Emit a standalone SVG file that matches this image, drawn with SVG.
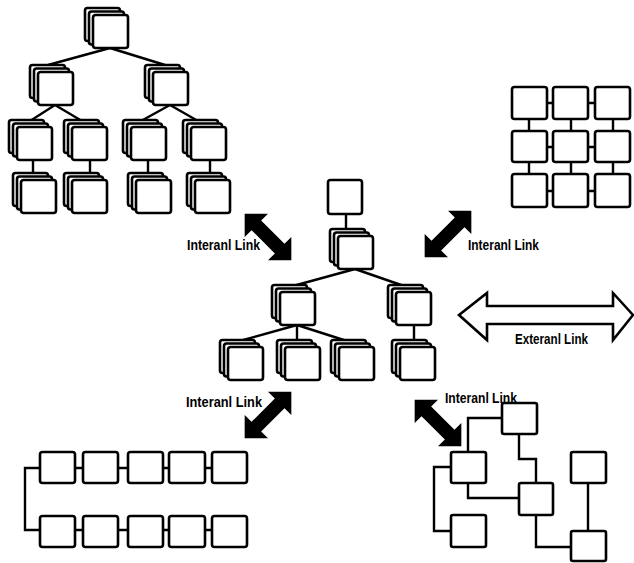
<svg xmlns="http://www.w3.org/2000/svg" xmlns:xlink="http://www.w3.org/1999/xlink" width="634" height="563" viewBox="0 0 634 563">
<style>
.b{fill:#fff;stroke:#000;stroke-width:2.6;stroke-linejoin:round}
.c{fill:none;stroke:#000;stroke-width:2.4;stroke-linejoin:miter}
.t{font-family:"Liberation Sans",Arial,sans-serif;font-weight:bold;font-size:14px;fill:#000}
.arr{fill:#000}
.ext{fill:#fff;stroke:#000;stroke-width:2.6;stroke-linejoin:miter}
</style>
<defs>
<g id="stk">
<rect class="b" x="-8" y="-7" width="35" height="33" rx="2.5"/>
<rect class="b" x="-4" y="-3.5" width="35" height="33" rx="2.5"/>
<rect class="b" x="0" y="0" width="35" height="33" rx="2.5"/>
</g>
<path id="dar" d="M-33,0 L-16.5,-16.5 L-16.5,-6.8 L16.5,-6.8 L16.5,-16.5 L33,0 L16.5,16.5 L16.5,6.8 L-16.5,6.8 L-16.5,16.5 Z"/>
</defs>
<g id="connectors">
<path class="c" d="M110,48 L48,65 M110,48 L165,65"/>
<path class="c" d="M55,105 L30,121 M55,105 L82,121 M170,105 L141,121 M170,105 L198,121"/>
<path class="c" d="M33,160 V176 M90,160 V176 M148,160 V176 M210,160 V176"/>
<path class="c" d="M512,103 H595 M512,147 H595 M512,191 H595 M529,119 V174 M571,119 V174 M613,119 V174"/>
<path class="c" d="M346,214 V231 M355,269 L293,286 M355,269 L404,286"/>
<path class="c" d="M297,325 L236,342 M297,325 V342 M297,325 L350,342 M414,325 V342"/>
<path class="c" d="M40,468 H247 M40,530 H247 M40,468 H25 V530 H40"/>
<path class="c" d="M502,418 H468 V452 M519,434 V459 H536 V483 M468,483 V498 H519 M451,467 H434 V531 H451 M536,515 V547 H571 M588,483 V531"/>
</g>
<g id="n-tl-root"><use xlink:href="#stk" x="93" y="15"/></g>
<g id="n-tl-l2a"><use xlink:href="#stk" x="38" y="72"/></g>
<g id="n-tl-l2b"><use xlink:href="#stk" x="153" y="72"/></g>
<g id="n-tl-l3a"><use xlink:href="#stk" x="17" y="127"/></g>
<g id="n-tl-l3b"><use xlink:href="#stk" x="72" y="127"/></g>
<g id="n-tl-l3c"><use xlink:href="#stk" x="131" y="127"/></g>
<g id="n-tl-l3d"><use xlink:href="#stk" x="191" y="127"/></g>
<g id="n-tl-l4a"><use xlink:href="#stk" x="21" y="180"/></g>
<g id="n-tl-l4b"><use xlink:href="#stk" x="72" y="180"/></g>
<g id="n-tl-l4c"><use xlink:href="#stk" x="136" y="180"/></g>
<g id="n-tl-l4d"><use xlink:href="#stk" x="195" y="180"/></g>
<g id="n-grid">
<rect class="b" x="512" y="87" width="35" height="32" rx="2.5"/>
<rect class="b" x="553" y="87" width="35" height="32" rx="2.5"/>
<rect class="b" x="595" y="87" width="35" height="32" rx="2.5"/>
<rect class="b" x="512" y="131" width="35" height="31" rx="2.5"/>
<rect class="b" x="553" y="131" width="35" height="31" rx="2.5"/>
<rect class="b" x="595" y="131" width="35" height="31" rx="2.5"/>
<rect class="b" x="512" y="174" width="35" height="33" rx="2.5"/>
<rect class="b" x="553" y="174" width="35" height="33" rx="2.5"/>
<rect class="b" x="595" y="174" width="35" height="33" rx="2.5"/>
</g>
<g id="n-c-top"><rect class="b" x="328" y="180" width="34" height="34" rx="2.5"/></g>
<g id="n-c-l1"><use xlink:href="#stk" x="338" y="236"/></g>
<g id="n-c-l2a"><use xlink:href="#stk" x="280" y="292"/></g>
<g id="n-c-l2b"><use xlink:href="#stk" x="396" y="292"/></g>
<g id="n-c-l3a"><use xlink:href="#stk" x="228" y="347"/></g>
<g id="n-c-l3b"><use xlink:href="#stk" x="285" y="347"/></g>
<g id="n-c-l3c"><use xlink:href="#stk" x="339" y="347"/></g>
<g id="n-c-l3d"><use xlink:href="#stk" x="400" y="347"/></g>
<g id="n-bl">
<rect class="b" x="40" y="452" width="35" height="31" rx="2.5"/>
<rect class="b" x="83" y="452" width="35" height="31" rx="2.5"/>
<rect class="b" x="128" y="452" width="35" height="31" rx="2.5"/>
<rect class="b" x="169" y="452" width="36" height="31" rx="2.5"/>
<rect class="b" x="212" y="452" width="35" height="31" rx="2.5"/>
<rect class="b" x="40" y="516" width="35" height="31" rx="2.5"/>
<rect class="b" x="83" y="516" width="35" height="31" rx="2.5"/>
<rect class="b" x="128" y="516" width="35" height="31" rx="2.5"/>
<rect class="b" x="169" y="516" width="36" height="31" rx="2.5"/>
<rect class="b" x="212" y="516" width="35" height="31" rx="2.5"/>
</g>
<g id="n-br">
<rect class="b" x="502" y="403" width="35" height="31" rx="2"/>
<rect class="b" x="451" y="452" width="35" height="31" rx="2"/>
<rect class="b" x="519" y="483" width="34" height="32" rx="2"/>
<rect class="b" x="571" y="452" width="35" height="31" rx="2"/>
<rect class="b" x="451" y="515" width="35" height="32" rx="2"/>
<rect class="b" x="571" y="531" width="35" height="30" rx="2"/>
</g>
<g id="links">
<use xlink:href="#dar" class="arr" transform="translate(268,237) rotate(45)"/>
<use xlink:href="#dar" class="arr" transform="translate(448,234) rotate(-45)"/>
<use xlink:href="#dar" class="arr" transform="translate(268,415) rotate(-45)"/>
<use xlink:href="#dar" class="arr" transform="translate(438,423) rotate(45)"/>
<path class="ext" d="M459,315 L487,293 L487,306 L613,306 L613,293 L633,315 L613,340 L613,324 L487,324 L487,340 Z"/>
<text class="t" x="187" y="250" textLength="73" lengthAdjust="spacingAndGlyphs">Interanl Link</text>
<text class="t" x="468" y="250" textLength="71" lengthAdjust="spacingAndGlyphs">Interanl Link</text>
<text class="t" x="186" y="407" textLength="76" lengthAdjust="spacingAndGlyphs">Interanl Link</text>
<text class="t" x="445" y="403" textLength="72" lengthAdjust="spacingAndGlyphs">Interanl Link</text>
<text class="t" x="515" y="344" textLength="73" lengthAdjust="spacingAndGlyphs">Exteranl Link</text>
</g>
</svg>
